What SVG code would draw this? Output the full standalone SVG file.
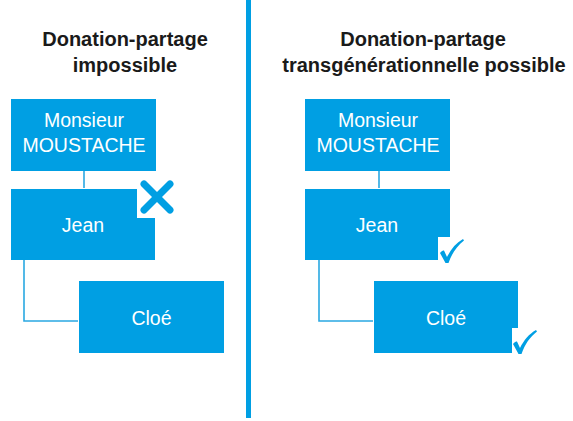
<svg xmlns="http://www.w3.org/2000/svg" width="573" height="421" viewBox="0 0 573 421">
<defs>
<style>
.box{fill:#009fe3;}
.lbl{fill:#ffffff;font-family:"Liberation Sans",Arial,sans-serif;font-size:19.5px;text-anchor:middle;}
.ttl{fill:#1a1a1a;font-family:"Liberation Sans",Arial,sans-serif;font-size:20px;font-weight:bold;text-anchor:middle;}
.con{fill:none;stroke:#2aa8e2;stroke-width:1.6;}
.icon{fill:#009fe3;}
</style>
<path id="tick" d="M0,14 C1.5,12 3,11.5 4,11.5 L7,18 C11,10 16,4 23,0 L24,1.5 C17,7 12,14 8.5,24 L5.5,24 Z"/>
</defs>
<rect x="246" y="0" width="5" height="418" fill="#009fe3"/>
<g id="title-left">
<text class="ttl" x="125" y="46">Donation-partage</text>
<text class="ttl" x="125" y="72">impossible</text>
</g>
<g id="title-right">
<text class="ttl" x="423" y="46">Donation-partage</text>
<text class="ttl" x="424" y="72">transgénérationnelle possible</text>
</g>
<g id="connectors">
<path class="con" d="M84,171 V188"/>
<path class="con" d="M24,260 V321 H78"/>
<path class="con" d="M379,171 V188"/>
<path class="con" d="M319,260 V321 H373"/>
</g>
<g id="left-monsieur">
<rect class="box" x="11" y="99" width="145" height="72"/>
<text class="lbl" x="84" y="127">Monsieur</text>
<text class="lbl" x="84" y="152">MOUSTACHE</text>
</g>
<g id="left-jean">
<path class="box" d="M11,189 H137 V218 H155 V260 H11 Z"/>
<text class="lbl" x="83" y="232">Jean</text>
<g stroke="#009fe3" stroke-width="7" stroke-linecap="round">
<line x1="144" y1="184" x2="170" y2="210"/>
<line x1="170" y1="184" x2="144" y2="210"/>
</g>
</g>
<g id="left-cloe">
<rect class="box" x="79" y="281" width="145" height="72"/>
<text class="lbl" x="151.5" y="325">Cloé</text>
</g>
<g id="right-monsieur">
<rect class="box" x="305" y="99" width="145" height="72"/>
<text class="lbl" x="378" y="127">Monsieur</text>
<text class="lbl" x="378" y="152">MOUSTACHE</text>
</g>
<g id="right-jean">
<path class="box" d="M305,189 H450 V237 H438 V260 H305 Z"/>
<text class="lbl" x="377" y="232">Jean</text>
<use href="#tick" class="icon" x="440" y="239"/>
</g>
<g id="right-cloe">
<path class="box" d="M374,281 H518 V328 H512 V353 H374 Z"/>
<text class="lbl" x="446" y="325">Cloé</text>
<use href="#tick" class="icon" x="513" y="330"/>
</g>
</svg>
